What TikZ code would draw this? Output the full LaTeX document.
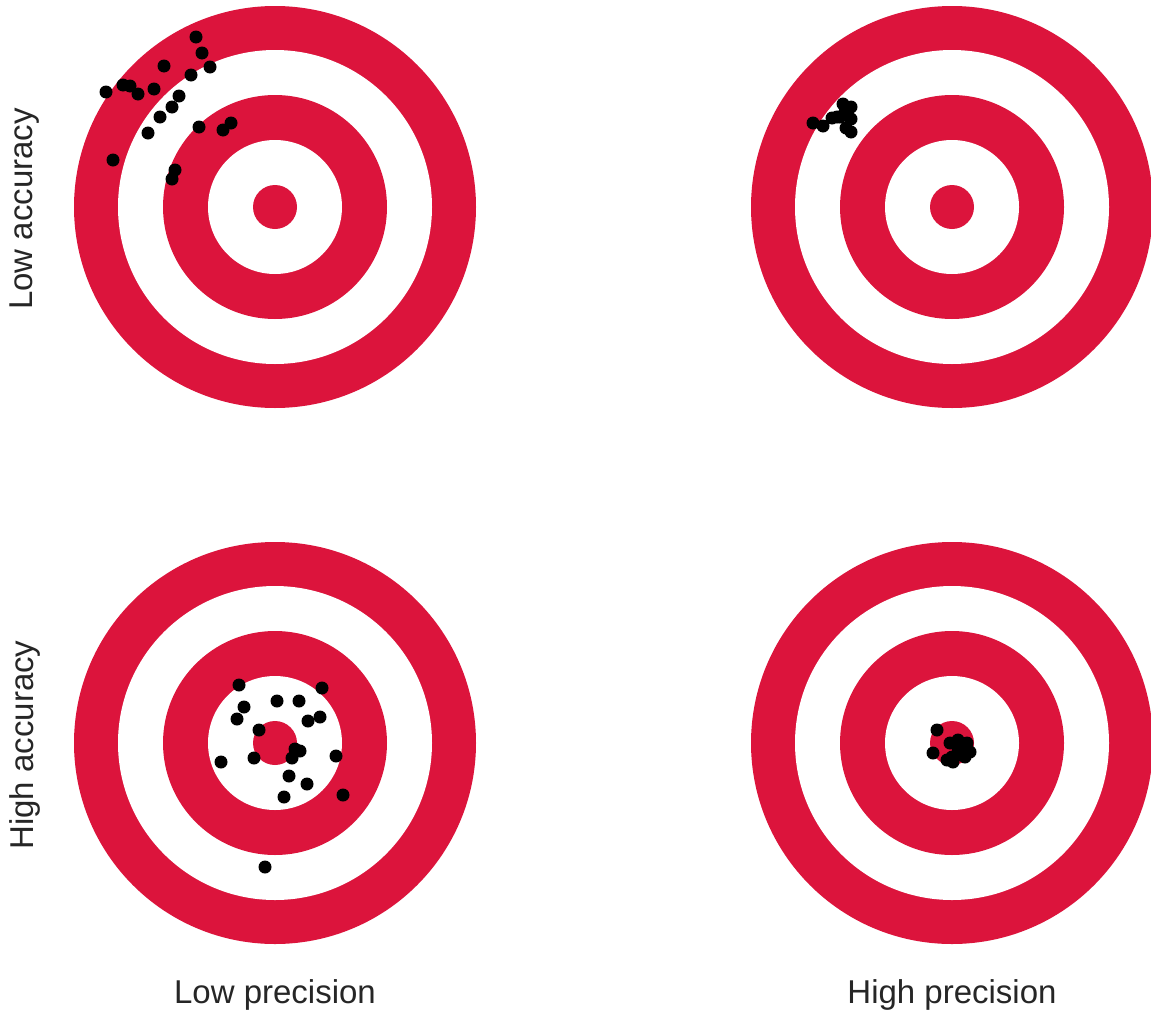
\documentclass[tikz,border=0pt]{standalone}
\usepackage{fontspec}
\setmainfont{Liberation Sans}
\definecolor{ringred}{HTML}{DC143C}
\definecolor{labgray}{HTML}{262626}
\begin{document}
\begin{tikzpicture}[x=1pt,y=-1pt,
  lab/.style={font=\fontsize{33}{38}\selectfont, text=labgray, inner sep=0pt},
  hit/.style={fill=black}]
\useasboundingbox[fill=white] (0,0) rectangle (1151,1012);
\newcommand{\target}[2]{%
  \fill[ringred] (#1,#2) circle (201);
  \fill[white] (#1,#2) circle (157);
  \fill[ringred] (#1,#2) circle (112);
  \fill[white] (#1,#2) circle (67);
  \fill[ringred] (#1,#2) circle (22);}
\target{275}{207}
\target{952}{207}
\target{275}{743}
\target{952}{743}
% top-left: low accuracy, low precision
\foreach \px/\py in {196/37,202/53,210/67,164/66,191/75,106/92,123/85,130/86,138/94,154/89,179/96,172/107,160/117,148/133,199/127,231/123,223/130,113/160,175/170,172/179}
  \fill[hit] (\px,\py) circle (6.5);
% top-right: low accuracy, high precision
\foreach \px/\py in {813/123,823/126,832/118,837/117,843/104,851/107,851/119,846/128,851/132,840/117,845/112}
  \fill[hit] (\px,\py) circle (6.5);
% bottom-left: high accuracy, low precision
\foreach \px/\py in {239/685,322/688,277/701,299/701,244/707,237/719,320/717,308/721,259/730,295/749,300/751,292/758,221/762,254/758,336/756,289/776,307/784,284/797,343/795,265/867}
  \fill[hit] (\px,\py) circle (6.5);
% bottom-right: high accuracy, high precision
\foreach \px/\py in {937/730,933/753,950/743,958/740,967/743,970/752,962/755,952/757,947/760,953/762,965/757,958/748}
  \fill[hit] (\px,\py) circle (6.5);
\node[lab, anchor=base] (lp) at (275,1003) {Low precision};
\node[lab, anchor=base] (hp) at (952,1003) {High precision};
\node[lab, rotate=90] (la) at (25,209) {Low accuracy};
\node[lab, rotate=90] (ha) at (25,745) {High accuracy};
\end{tikzpicture}
\end{document}
